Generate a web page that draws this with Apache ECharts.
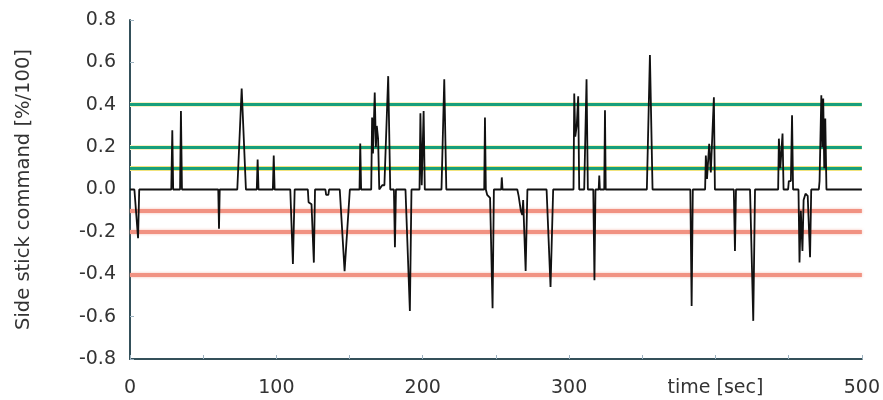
<!DOCTYPE html>
<html>
<head>
<meta charset="utf-8">
<script src="https://cdn.jsdelivr.net/npm/echarts@6/dist/echarts.min.js"></script>
<style>
  html, body { margin: 0; padding: 0; background: #fff; }
  #chart { width: 883px; height: 400px; }
</style>
</head>
<body>
<div id="chart"></div>
<script>
// Side stick command trace over a 500 s run
const time = [
  0, 3, 5.5, 6.3,
  28.2, 28.9, 29.5,
  34.2, 34.8, 35.5,
  60.3, 60.8, 61.3,
  73.3, 76.3, 79.2,
  86.6, 87.2, 87.8,
  97.6, 98.2, 98.8,
  109.5, 111.3, 112.5,
  121.5, 122, 124, 125.6, 126.4,
  133.5, 134, 135.5, 136,
  143.3, 146.6, 147.8, 150.2,
  156.8, 157.3, 157.9,
  164.8, 165.4, 166, 167.2, 168, 168.6, 169.5, 170.3,
  172.3, 173.8, 176.4, 177.8,
  180.3, 181, 181.7,
  188.2, 191.2, 192.3,
  197.8, 198.4, 199.3, 200.6, 201.4,
  212.8, 214.7, 216.1,
  242, 242.5, 243.1,
  243.5, 244, 246, 247.7, 248.6,
  253.6, 254, 254.5,
  264.6, 265.5, 267, 268, 268.6, 270.3, 271.5,
  284.6, 287.3, 289.1,
  303, 303.5, 304.2, 305.2, 306.2, 306.9,
  310.3, 311.9, 312.8,
  316.5, 317.3, 318,
  320.2, 320.6, 321,
  324, 324.5, 325,
  353.1, 355.2, 357,
  382.8, 383.7, 384.5,
  392.9, 393.4, 394.2, 395.7, 396.8, 398.9, 399.6,
  412.5, 413.3, 414,
  423.6, 425.8, 427,
  442.8, 443.3, 444.3, 445.8, 446.5,
  449.6, 450.1, 451.5, 452.3, 453,
  456.7, 457.4, 458.3, 459.4, 460.2, 461.5, 463, 464.6, 465.4,
  470.6, 471.1, 471.6, 472.3, 473, 473.6, 474.3, 475, 475.8,
  500
];

const command = [
  0, 0, -0.23, 0,
  0, 0.28, 0,
  0, 0.37, 0,
  0, -0.185, 0,
  0, 0.477, 0,
  0, 0.142, 0,
  0, 0.16, 0,
  0, -0.352, 0,
  0, -0.06, -0.07, -0.345, 0,
  0, -0.025, -0.025, 0,
  0, -0.385, -0.38, 0,
  0, 0.217, 0,
  0, 0.34, 0.17, 0.458, 0.2, 0.3, 0.24, 0,
  0.02, 0.02, 0.535, 0,
  0, -0.273, 0,
  0, -0.573, 0,
  0, 0.36, 0.02, 0.37, 0,
  0, 0.52, 0,
  0, 0.34, 0,
  0, -0.025, -0.04, -0.56, 0,
  0, 0.057, 0,
  0, -0.03, -0.1, -0.12, -0.05, -0.385, 0,
  0, -0.46, 0,
  0, 0.453, 0.25, 0.3, 0.44, 0,
  0, 0.52, 0,
  0, -0.428, 0,
  0, 0.066, 0,
  0, 0.374, 0,
  0, 0.635, 0,
  0, -0.55, 0,
  0, 0.16, 0.05, 0.216, 0.08, 0.435, 0,
  0, -0.29, 0,
  0, -0.62, 0,
  0, 0.24, 0.1, 0.264, 0,
  0, 0.04, 0.04, 0.35, 0,
  0, -0.345, -0.1, -0.29, -0.05, -0.02, -0.03, -0.32, 0,
  0, 0.04, 0.04, 0.445, 0.2, 0.43, 0.1, 0.335, 0,
  0
];

// Threshold levels
const upperLevels = [0.4, 0.2, 0.1];
const lowerLevels = [-0.1, -0.2, -0.4];

// Axis ticks and labels
const xTickValues = [0, 100, 200, 300, 400, 500];
const xTickLabels = ['0', '100', '200', '300', 'time [sec]', '500'];
const yTickValues = [0.8, 0.6, 0.4, 0.2, 0.0, -0.2, -0.4, -0.6, -0.8];
const yTickLabels = ['0.8', '0.6', '0.4', '0.2', '0.0', '-0.2', '-0.4', '-0.6', '-0.8'];

const font = 'DejaVu Sans';
const textColor = '#333';
const axisColor = '#34505a';
const tickColor = '#9db2c0';

function levelLines(levels, style) {
  return levels.map(v => ({ yAxis: v, lineStyle: style(v) }));
}

const chart = echarts.init(document.getElementById('chart'), null, { renderer: 'canvas' });

chart.setOption({
  animation: false,
  backgroundColor: '#fff',
  grid: { left: 130, right: 21, top: 20, bottom: 41, containLabel: false },
  xAxis: {
    type: 'value',
    min: 0,
    max: 500,
    interval: 50,
    axisLine: { show: true, onZero: false, lineStyle: { color: axisColor, width: 2 } },
    axisTick: { show: true, inside: true, length: 4, lineStyle: { color: tickColor, width: 1 } },
    splitLine: { show: false },
    axisLabel: {
      margin: 20,
      color: textColor,
      fontFamily: font,
      fontSize: 19,
      formatter: v => {
        const i = xTickValues.findIndex(t => Math.abs(t - v) < 1e-6);
        return i >= 0 ? xTickLabels[i] : '';
      }
    }
  },
  yAxis: {
    type: 'value',
    min: -0.8,
    max: 0.8,
    interval: 0.2,
    name: 'Side stick command [%/100]',
    nameLocation: 'middle',
    nameGap: 96,
    nameTextStyle: { color: textColor, fontFamily: font, fontSize: 19.5 },
    axisLine: { show: true, onZero: false, lineStyle: { color: axisColor, width: 2 } },
    axisTick: { show: true, inside: true, length: 4, lineStyle: { color: tickColor, width: 1 } },
    splitLine: { show: false },
    axisLabel: {
      margin: 14,
      color: textColor,
      fontFamily: font,
      fontSize: 19,
      formatter: v => {
        const i = yTickValues.findIndex(t => Math.abs(t - v) < 1e-6);
        return i >= 0 ? yTickLabels[i] : '';
      }
    }
  },
  series: [
    {
      // yellow halo under the positive thresholds
      type: 'line',
      data: [],
      silent: true,
      z: 1,
      markLine: {
        silent: true,
        symbol: 'none',
        label: { show: false },
        data: levelLines(upperLevels, v => ({
          color: v === 0.1 ? '#f0e37c' : '#f7f2c0',
          width: 5,
          type: 'solid'
        }))
      }
    },
    {
      // green positive thresholds, salmon negative thresholds
      type: 'line',
      data: [],
      silent: true,
      z: 2,
      markLine: {
        silent: true,
        symbol: 'none',
        label: { show: false },
        data: levelLines(upperLevels, () => ({ color: '#179f7b', width: 3, type: 'solid' }))
          .concat(levelLines(lowerLevels, () => ({
            color: '#f19282', width: 4, type: 'solid',
            shadowBlur: 3, shadowColor: 'rgba(240,150,130,0.6)'
          })))
      }
    },
    {
      type: 'line',
      z: 5,
      showSymbol: false,
      silent: true,
      data: time.map((t, i) => [t, command[i]]),
      lineStyle: { color: '#111', width: 1.8 }
    }
  ]
});
</script>
</body>
</html>
